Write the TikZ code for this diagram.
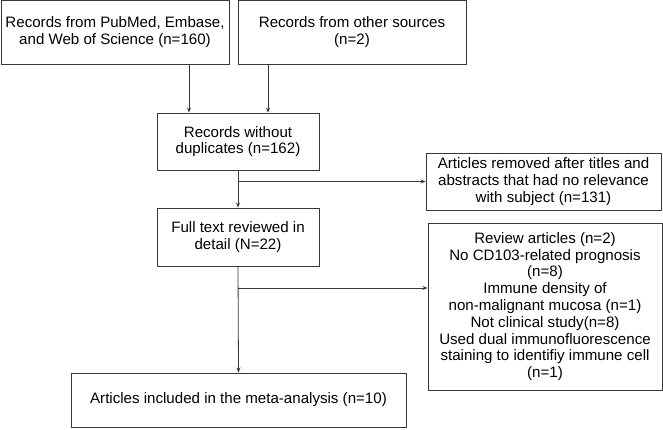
\documentclass[tikz,border=0pt]{standalone}
\usepackage{fontspec}
\setmainfont{Liberation Sans}
\usetikzlibrary{arrows.meta}
\definecolor{boxline}{RGB}{55,55,55}

\begin{document}
\begin{tikzpicture}[x=1pt,y=-1pt,line join=round,
  box/.style={draw=boxline,line width=0.9pt,align=center,inner sep=0pt,
    font=\fontsize{15.1}{16.8}\selectfont},
  arr/.style={draw=boxline,line width=0.8pt,-{Stealth[length=5pt,width=4pt]}}]
\useasboundingbox (0,0) rectangle (663,429);
% sources
\node[box,minimum width=228pt,minimum height=64pt] (pub) at (115,32) {Records from PubMed, Embase,\\and Web of Science (n=160)};
\node[box,minimum width=228pt,minimum height=64pt] (other) at (352,32) {Records from other sources\\(n=2)};
% screening
\node[box,minimum width=162pt,minimum height=57pt] (dup) at (238,141.5) {Records without\\duplicates (n=162)};
\node[box,minimum width=235pt,minimum height=57pt] (screen) at (543.5,181.5) {Articles removed after titles and\\abstracts that had no relevance\\with subject (n=131)};
\node[box,minimum width=162pt,minimum height=58pt] (full) at (238,237) {Full text reviewed in\\detail (N=22)};
\node[box,minimum width=234pt,minimum height=167pt] (excl) at (545,306.5) {Review articles (n=2)\\No CD103-related prognosis\\(n=8)\\Immune density of\\non-malignant mucosa (n=1)\\Not clinical study(n=8)\\Used dual immunofluorescence\\staining to identifiy immune cell\\(n=1)};
\node[box,minimum width=335pt,minimum height=54pt] (incl) at (238.5,400) {Articles included in the meta-analysis (n=10)};
% arrows
\coordinate (inA) at ([xshift=-49pt]dup.north);
\coordinate (inB) at ([xshift=30pt]dup.north);
\draw[arr] (inA |- pub.south) -- (inA);
\draw[arr] (inB |- other.south) -- (inB);
\draw[arr] (dup.south) -- (full.north);
\draw[arr] (dup.south |- screen.west) -- (screen.west);
\draw[arr] (full.south) -- (incl.north);
\coordinate (fork) at (238,288);
\draw[arr] (fork) -- (fork -| excl.west);
\end{tikzpicture}
\end{document}
